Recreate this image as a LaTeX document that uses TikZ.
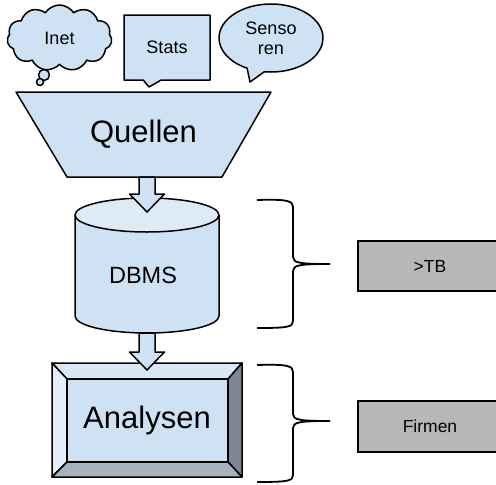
\documentclass[tikz,border=0pt]{standalone}
\usepackage{fontspec}
\setmainfont{Liberation Sans}
\usetikzlibrary{shapes.symbols,shapes.callouts,calc}
\definecolor{lb}{HTML}{CFE2F3}
\definecolor{lbtop}{HTML}{DEEAF6}
\definecolor{bvtop}{HTML}{DAE7F4}
\definecolor{bvleft}{HTML}{E4EEF8}
\definecolor{bvright}{HTML}{7D8793}
\definecolor{bvbot}{HTML}{A6B2BE}
\definecolor{gr}{HTML}{B7B7B7}
\tikzset{
  shp/.style={draw=black, fill=lb, line width=1.5pt, line join=round},
  smalltxt/.style={font=\fontsize{18}{20}\selectfont},
  bigtxt/.style={font=\fontsize{31}{36}\selectfont},
  midtxt/.style={font=\fontsize{23.5}{26}\selectfont},
  graybox/.style={draw=black, fill=gr, line width=1.2pt, minimum width=144pt, minimum height=50pt, inner sep=0pt, font=\fontsize{17.5}{20}\selectfont},
  bracestyle/.style={draw=black, line width=1.8pt},
}
\newcommand{\blockarr}[2]{%
  \draw[shp] ($(#1)+(-8,0)$) -- ($(#1)+(8,0)$) -- ($(#2)+(8,-18)$) -- ($(#2)+(17.5,-18)$) -- (#2) -- ($(#2)+(-17.5,-18)$) -- ($(#2)+(-8,-18)$) -- cycle;}
\begin{document}
\begin{tikzpicture}[x=1pt,y=-1pt]
\useasboundingbox (0,0) rectangle (496,485);
\clip (0,0) rectangle (496,485);

% Inet cloud
\node[shp, shape=cloud, cloud puffs=11, cloud puff arc=115, aspect=1.6, minimum width=105pt, minimum height=66pt, inner sep=0pt, smalltxt] (inet) at (59.5,38) {Inet};
\node[shp, circle, minimum size=11pt, inner sep=0pt] (b1) at (44,75) {};
\node[shp, circle, minimum size=7pt, inner sep=0pt] (b2) at (40,82) {};

% Stats callout
\node[shp, rectangle callout, minimum width=86pt, minimum height=65pt, inner sep=0pt, callout absolute pointer={(149,87)}, callout pointer width=18pt, smalltxt] (stats) at (167,47.5) {Stats};

% Sensoren callout
\node[shp, ellipse callout, minimum width=104pt, minimum height=68pt, inner sep=0pt, callout absolute pointer={(250,82)}, callout pointer arc=20, align=center, smalltxt] (sens) at (271,38) {Senso\\ren};

% Quellen trapezoid
\draw[shp] (16,92) coordinate (qtl) -- (271,92) coordinate (qtr) -- (222,177) coordinate (qbr) -- (67,177) coordinate (qbl) -- cycle;
\node[bigtxt] (quellen) at (143.5,134.5) {Quellen};
\coordinate (qout) at (147,177);

% DBMS cylinder
\fill[lb] (75,215) -- (75,316) arc[start angle=180, end angle=0, x radius=72, y radius=17] -- (219,215) -- cycle;
\draw[line width=1.5pt] (75,215) -- (75,316) arc[start angle=180, end angle=0, x radius=72, y radius=17] -- (219,215);
\draw[shp, fill=lbtop] (147,215) ellipse[x radius=72, y radius=17];
\node[midtxt] (dbms) at (143,275) {DBMS};
\coordinate (dbin) at (147,212);
\coordinate (dbout) at (147,333);

% Analysen bevel box
\coordinate (o1) at (52,363); \coordinate (o2) at (242,363);
\coordinate (o3) at (242,477); \coordinate (o4) at (52,477);
\coordinate (i1) at (67,379); \coordinate (i2) at (228,379);
\coordinate (i3) at (228,462); \coordinate (i4) at (67,462);
\draw[shp, fill=bvtop] (o1) -- (o2) -- (i2) -- (i1) -- cycle;
\draw[shp, fill=bvleft] (o1) -- (i1) -- (i4) -- (o4) -- cycle;
\draw[shp, fill=bvright] (o2) -- (o3) -- (i3) -- (i2) -- cycle;
\draw[shp, fill=bvbot] (o4) -- (i4) -- (i3) -- (o3) -- cycle;
\draw[shp] (i1) rectangle (i3);
\node[bigtxt] (analysen) at (147,420) {Analysen};
\coordinate (anin) at (147,370);

% block arrows
\blockarr{qout}{dbin}
\blockarr{dbout}{anin}

% braces
\draw[bracestyle] (257,200) .. controls (288,199) and (293,201) .. (293,207) -- (293,257) .. controls (293,263) and (300,264) .. (330,264) coordinate (br1) .. controls (300,264) and (293,265) .. (293,271) -- (293,321) .. controls (293,327) and (288,328) .. (257,328);
\draw[bracestyle] (257,365) .. controls (288,364) and (293,366) .. (293,372) -- (293,414) .. controls (293,420) and (300,421) .. (330,421) coordinate (br2) .. controls (300,421) and (293,422) .. (293,428) -- (293,475) .. controls (293,481) and (288,482) .. (257,482);

% gray boxes
\node[graybox] (tb) at (430,266) {>TB};
\node[graybox, minimum height=51pt] (firmen) at (430,426.5) {Firmen};
\end{tikzpicture}
\end{document}
